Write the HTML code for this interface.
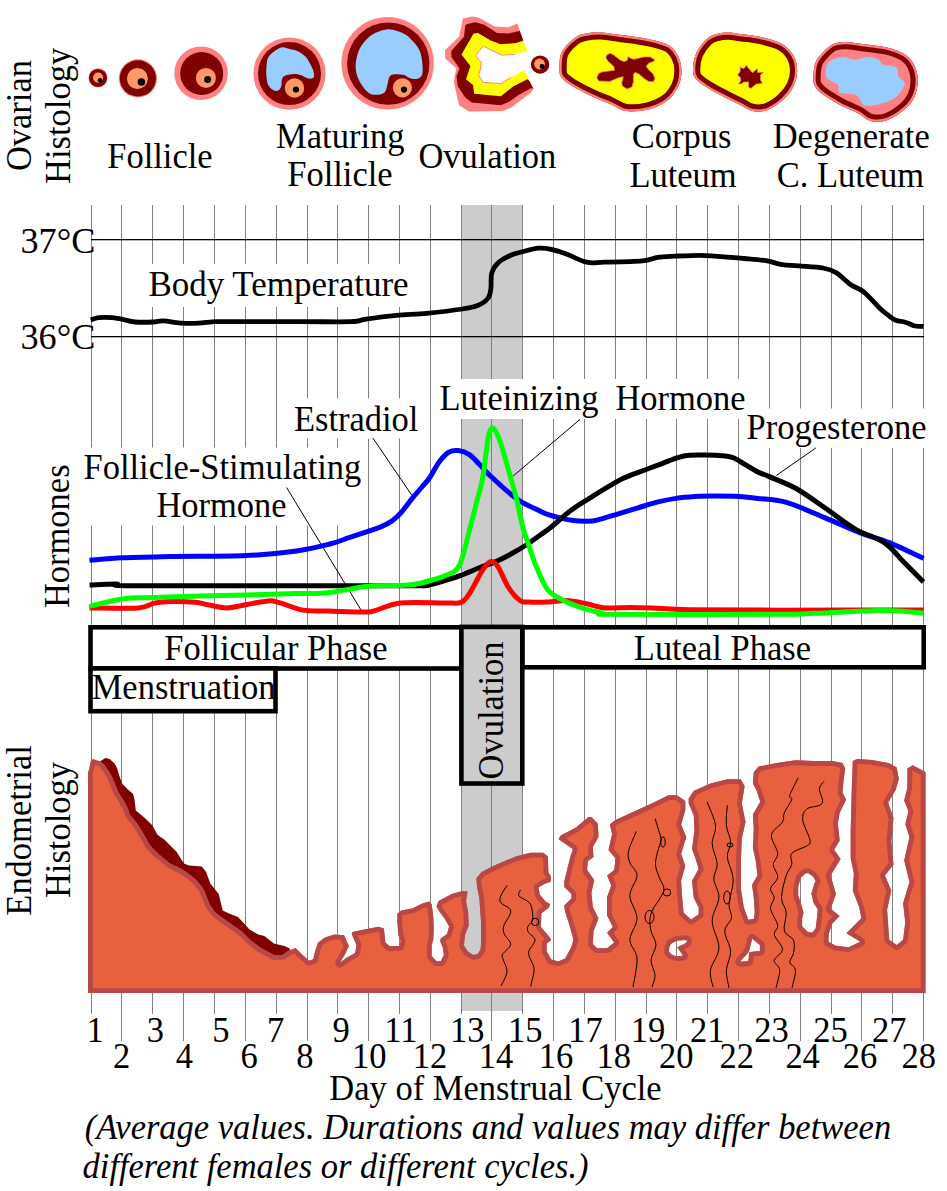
<!DOCTYPE html>
<html><head><meta charset="utf-8"><style>
html,body{margin:0;padding:0;background:#fff;overflow:hidden;}
svg{display:block;}
text{font-family:"Liberation Serif",serif;fill:#000;}
</style></head><body>
<svg width="947" height="1191" viewBox="0 0 947 1191">
<rect width="947" height="1191" fill="#fff"/>
<rect x="461" y="205" width="62" height="806" fill="#cccccc"/>
<g fill="#808080"><rect x="91" y="205" width="1" height="809"/><rect x="121" y="205" width="1" height="836"/><rect x="152" y="205" width="1" height="809"/><rect x="183" y="205" width="1" height="836"/><rect x="214" y="205" width="1" height="809"/><rect x="245" y="205" width="1" height="836"/><rect x="276" y="205" width="1" height="809"/><rect x="307" y="205" width="1" height="836"/><rect x="337" y="205" width="1" height="809"/><rect x="368" y="205" width="1" height="836"/><rect x="399" y="205" width="1" height="809"/><rect x="430" y="205" width="1" height="836"/><rect x="461" y="205" width="1" height="809"/><rect x="491" y="205" width="1" height="836"/><rect x="522" y="205" width="1" height="809"/><rect x="553" y="205" width="1" height="836"/><rect x="584" y="205" width="1" height="809"/><rect x="615" y="205" width="1" height="836"/><rect x="646" y="205" width="1" height="809"/><rect x="676" y="205" width="1" height="836"/><rect x="707" y="205" width="1" height="809"/><rect x="738" y="205" width="1" height="836"/><rect x="769" y="205" width="1" height="809"/><rect x="800" y="205" width="1" height="836"/><rect x="831" y="205" width="1" height="809"/><rect x="861" y="205" width="1" height="836"/><rect x="892" y="205" width="1" height="809"/><rect x="923" y="205" width="1" height="836"/></g>
<rect x="91" y="239" width="833" height="1.3" fill="#000"/>
<rect x="91" y="336" width="833" height="1.3" fill="#000"/>
<rect x="140" y="264" width="276" height="43" fill="#fff"/>
<rect x="289" y="398.5" width="134" height="40" fill="#fff"/>
<rect x="80" y="447.5" width="283" height="78" fill="#fff"/>
<rect x="432" y="379" width="318" height="40" fill="#fff"/>
<rect x="742" y="408.5" width="200" height="39.5" fill="#fff"/>
<text transform="translate(30.80,171.12) rotate(-90) scale(1,1.05)" font-size="34.5">Ovarian</text>
<text transform="translate(69.90,183.89) rotate(-90) scale(1,1.05)" font-size="34.5">Histology</text>
<text transform="translate(107.21,167.80) scale(1.0,1.05)" font-size="34.5">Follicle</text>
<text transform="translate(276.11,148.00) scale(1.0,1.05)" font-size="34.5">Maturing</text>
<text transform="translate(287.21,186.30) scale(1.0,1.05)" font-size="34.5">Follicle</text>
<text transform="translate(418.38,167.50) scale(1.0,1.05)" font-size="34.5">Ovulation</text>
<text transform="translate(631.68,147.80) scale(1.0,1.05)" font-size="34.5">Corpus</text>
<text transform="translate(629.41,186.80) scale(1.0,1.05)" font-size="34.5">Luteum</text>
<text transform="translate(772.71,147.80) scale(1.0,1.05)" font-size="34.5">Degenerate</text>
<text transform="translate(776.68,186.80) scale(1.0,1.05)" font-size="34.5">C. Luteum</text>
<text transform="translate(20.47,252.80) scale(1.05,1.05)" font-size="34.5">37°C</text>
<text transform="translate(20.47,348.90) scale(1.05,1.05)" font-size="34.5">36°C</text>
<text transform="translate(148.49,295.50) scale(1.014,1.05)" font-size="34.5">Body Temperature</text>
<text transform="translate(439.51,409.80) scale(1.0,1.05)" font-size="34.5">Luteinizing</text>
<text transform="translate(615.41,409.80) scale(1.0,1.05)" font-size="34.5">Hormone</text>
<text transform="translate(746.61,439.20) scale(1.0,1.05)" font-size="34.5">Progesterone</text>
<text transform="translate(293.91,430.90) scale(1.0,1.05)" font-size="34.5">Estradiol</text>
<text transform="translate(83.51,478.60) scale(1.0,1.05)" font-size="34.5">Follicle-Stimulating</text>
<text transform="translate(156.41,516.80) scale(1.0,1.05)" font-size="34.5">Hormone</text>
<text transform="translate(68.60,608.09) rotate(-90) scale(1,1.05)" font-size="34.5">Hormones</text>
<text transform="translate(329.31,1099.90) scale(1.0,1.05)" font-size="34.5">Day of Menstrual Cycle</text>
<text transform="translate(84.69,1139.00) scale(1.0,1.05)" font-size="34.5" font-style="italic">(Average values. Durations and values may differ between</text>
<text transform="translate(82.56,1177.70) scale(1.0,1.05)" font-size="34.5" font-style="italic">different females or different cycles.)</text>
<text transform="translate(31.10,915.69) rotate(-90) scale(1,1.05)" font-size="34.5">Endometrial</text>
<text transform="translate(69.70,898.09) rotate(-90) scale(1,1.05)" font-size="34.5">Histology</text>
<g stroke="#000" stroke-width="1" fill="none"><line x1="580" y1="419.4" x2="513.2" y2="476"/><line x1="815.9" y1="447.9" x2="776.3" y2="475.5"/><line x1="372.9" y1="438.1" x2="412.6" y2="496.4"/><line x1="286.6" y1="487.5" x2="363.2" y2="613.6"/></g>
<circle cx="98" cy="77.9" r="9.6" fill="#ff8080"/>
<circle cx="98" cy="77.9" r="9.0" fill="#800000"/>
<circle cx="98.1" cy="77.7" r="5.1" fill="#ff9966"/>
<circle cx="100.2" cy="80.3" r="2.4" fill="#000"/>
<circle cx="137.9" cy="78.4" r="19.1" fill="#ff8080"/>
<circle cx="137.9" cy="78.4" r="18.1" fill="#800000"/>
<circle cx="137.4" cy="78.5" r="10.5" fill="#ff9966"/>
<circle cx="141.4" cy="82" r="3.8" fill="#000"/>
<circle cx="201.1" cy="73.3" r="26.8" fill="#ff8080"/>
<circle cx="201.7" cy="73.5" r="21.5" fill="#800000"/>
<circle cx="205.9" cy="77.9" r="10" fill="#ff9966"/>
<circle cx="207.6" cy="79.5" r="3.5" fill="#000"/>
<circle cx="289.5" cy="73.6" r="36.1" fill="#ff8080"/>
<circle cx="289.5" cy="73.6" r="31.5" fill="#800000"/>
<path d="M268.2,57.4 C269.7,54.8 273.0,52.3 275.3,50.6 C277.6,48.9 279.7,47.5 282.1,47.2 C284.5,46.9 287.2,48.3 289.7,48.9 C292.2,49.5 294.8,49.8 297.3,51.0 C299.8,52.2 302.9,54.3 304.9,56.1 C306.9,57.9 307.8,59.8 309.1,62.0 C310.4,64.2 312.1,67.1 312.9,69.6 C313.7,72.1 314.6,75.7 313.8,77.2 C313.0,78.7 310.5,78.8 308.3,78.5 C306.1,78.2 303.1,75.9 300.7,75.1 C298.3,74.3 296.4,73.8 293.9,73.9 C291.4,74.0 287.5,74.7 285.5,75.5 C283.5,76.3 282.8,77.2 282.1,78.9 C281.4,80.6 281.9,83.8 281.3,85.7 C280.7,87.6 280.0,89.5 278.7,90.3 C277.4,91.1 275.3,91.1 273.6,90.3 C271.9,89.5 269.8,87.9 268.6,85.7 C267.4,83.5 266.9,80.4 266.5,77.2 C266.1,74.0 266.2,69.6 266.5,66.3 C266.8,63.0 266.7,60.0 268.2,57.4Z" fill="#99ccff"/>
<circle cx="294.5" cy="88" r="9.7" fill="#ff9966"/>
<circle cx="296" cy="89.5" r="3.1" fill="#000"/>
<circle cx="387.6" cy="63.3" r="46.2" fill="#ff8080"/>
<circle cx="388.3" cy="63.6" r="41.2" fill="#800000"/>
<path d="M356.0,61.6 C356.5,58.1 357.5,53.5 359.1,50.0 C360.7,46.5 362.9,43.3 365.5,40.5 C368.1,37.7 371.5,35.0 375.0,33.1 C378.5,31.2 382.9,29.8 386.6,29.4 C390.3,29.0 393.8,30.0 397.1,31.0 C400.4,32.0 403.8,33.3 406.6,35.2 C409.4,37.1 411.9,40.1 414.0,42.6 C416.1,45.1 418.0,47.2 419.3,50.0 C420.6,52.8 421.4,55.6 421.9,59.5 C422.4,63.4 423.1,70.0 422.5,73.2 C421.9,76.4 420.2,77.6 418.3,78.5 C416.4,79.4 413.4,79.1 410.9,78.5 C408.4,77.9 406.1,75.5 403.5,74.8 C400.9,74.1 397.3,74.0 395.0,74.3 C392.7,74.6 390.9,74.8 389.7,76.4 C388.5,78.0 388.3,81.3 387.6,83.8 C386.9,86.3 386.7,89.4 385.5,91.2 C384.3,93.0 382.5,93.9 380.2,94.4 C377.9,94.9 374.2,95.1 371.8,94.4 C369.4,93.7 367.6,92.4 365.5,90.1 C363.4,87.8 360.7,83.8 359.1,80.6 C357.5,77.4 356.5,74.3 356.0,71.1 C355.5,67.9 355.5,65.1 356.0,61.6Z" fill="#99ccff"/>
<circle cx="402.4" cy="87.8" r="9.6" fill="#ff9966"/>
<circle cx="404" cy="89.6" r="3.1" fill="#000"/>
<polygon points="517.3,23.4 508.4,27.2 494.5,26.6 479.3,17.7 472.3,16.5 462.8,18.4 460.9,28.5 459.0,36.7 445.1,50.0 445.1,58.3 456.5,68.4 454.6,76.0 453.9,82.4 459.0,105.2 469.1,111.5 503.4,110.9 511.0,107.7 521.1,100.1 530.6,93.1 546.0,96.0 546.0,20.0" fill="#ff8080"/>
<polygon points="519.5,31.0 508.4,33.6 497.0,32.9 484.3,24.7 475.5,22.2 467.2,24.1 465.3,25.3 464.0,36.7 451.4,50.7 451.4,57.0 459.6,68.4 456.5,76.0 457.7,86.2 465.3,97.6 471.7,102.6 500.8,105.2 509.7,101.4 518.6,95.0 531.5,88.0 546.0,96.0 546.0,20.0" fill="#800000"/>
<polygon points="522.5,41.0 516.0,43.1 500.8,44.3 490.7,40.5 478.0,32.9 473.6,33.6 461.5,54.5 470.4,65.9 466.0,79.2 473.0,84.9 474.2,93.8 500.8,96.3 513.5,86.2 527.4,79.2 546.0,96.0 546.0,20.0" fill="#ffff00"/>
<polygon points="527.0,51.0 514.8,54.5 501.5,55.1 483.1,46.2 475.5,55.8 481.2,62.1 480.5,69.1 478.6,74.8 483.1,82.4 500.8,83.6 511.0,77.3 524.3,70.3 533.5,89.0 530.6,93.1 548.0,100.0 548.0,14.0 517.3,14.0 517.3,23.4" fill="#fff"/>
<polyline points="514.8,54.5 501.5,55.1 483.1,46.2 475.5,55.8 481.2,62.1 480.5,69.1 478.6,74.8 483.1,82.4 500.8,83.6 511.0,77.3" fill="none" stroke="#ff8080" stroke-width="1"/>
<circle cx="540.1" cy="64.6" r="9.2" fill="#800000"/>
<circle cx="539.5" cy="64" r="5.4" fill="#ff9966"/>
<circle cx="542" cy="66.5" r="2.4" fill="#000"/>
<clipPath id="c1"><path d="M559.5,67.5 C559.6,63.3 559.3,56.7 561.9,51.7 C564.5,46.7 571.2,40.4 575.3,37.4 C579.4,34.4 582.2,34.3 586.4,33.5 C590.6,32.7 594.9,32.1 600.7,32.4 C606.5,32.6 613.4,33.9 621.3,35.0 C629.2,36.1 640.3,37.3 648.2,39.0 C656.1,40.7 663.8,42.4 668.8,45.3 C673.8,48.2 676.2,52.2 678.3,56.4 C680.4,60.6 681.5,65.7 681.5,70.7 C681.5,75.7 680.7,81.5 678.3,86.5 C675.9,91.5 672.2,97.0 667.2,100.8 C662.2,104.6 655.1,107.8 648.2,109.5 C641.3,111.2 632.3,112.0 626.0,111.1 C619.7,110.2 616.0,106.5 610.2,104.0 C604.4,101.5 597.8,99.2 591.2,96.0 C584.6,92.8 575.6,88.2 570.6,85.0 C565.6,81.8 563.0,79.9 561.1,77.0 C559.2,74.1 559.4,71.7 559.5,67.5Z"/></clipPath><path d="M559.5,67.5 C559.6,63.3 559.3,56.7 561.9,51.7 C564.5,46.7 571.2,40.4 575.3,37.4 C579.4,34.4 582.2,34.3 586.4,33.5 C590.6,32.7 594.9,32.1 600.7,32.4 C606.5,32.6 613.4,33.9 621.3,35.0 C629.2,36.1 640.3,37.3 648.2,39.0 C656.1,40.7 663.8,42.4 668.8,45.3 C673.8,48.2 676.2,52.2 678.3,56.4 C680.4,60.6 681.5,65.7 681.5,70.7 C681.5,75.7 680.7,81.5 678.3,86.5 C675.9,91.5 672.2,97.0 667.2,100.8 C662.2,104.6 655.1,107.8 648.2,109.5 C641.3,111.2 632.3,112.0 626.0,111.1 C619.7,110.2 616.0,106.5 610.2,104.0 C604.4,101.5 597.8,99.2 591.2,96.0 C584.6,92.8 575.6,88.2 570.6,85.0 C565.6,81.8 563.0,79.9 561.1,77.0 C559.2,74.1 559.4,71.7 559.5,67.5Z" fill="#ffff00"/><path d="M559.5,67.5 C559.6,63.3 559.3,56.7 561.9,51.7 C564.5,46.7 571.2,40.4 575.3,37.4 C579.4,34.4 582.2,34.3 586.4,33.5 C590.6,32.7 594.9,32.1 600.7,32.4 C606.5,32.6 613.4,33.9 621.3,35.0 C629.2,36.1 640.3,37.3 648.2,39.0 C656.1,40.7 663.8,42.4 668.8,45.3 C673.8,48.2 676.2,52.2 678.3,56.4 C680.4,60.6 681.5,65.7 681.5,70.7 C681.5,75.7 680.7,81.5 678.3,86.5 C675.9,91.5 672.2,97.0 667.2,100.8 C662.2,104.6 655.1,107.8 648.2,109.5 C641.3,111.2 632.3,112.0 626.0,111.1 C619.7,110.2 616.0,106.5 610.2,104.0 C604.4,101.5 597.8,99.2 591.2,96.0 C584.6,92.8 575.6,88.2 570.6,85.0 C565.6,81.8 563.0,79.9 561.1,77.0 C559.2,74.1 559.4,71.7 559.5,67.5Z" fill="none" stroke="#800000" stroke-width="14.4" clip-path="url(#c1)"/><path d="M559.5,67.5 C559.6,63.3 559.3,56.7 561.9,51.7 C564.5,46.7 571.2,40.4 575.3,37.4 C579.4,34.4 582.2,34.3 586.4,33.5 C590.6,32.7 594.9,32.1 600.7,32.4 C606.5,32.6 613.4,33.9 621.3,35.0 C629.2,36.1 640.3,37.3 648.2,39.0 C656.1,40.7 663.8,42.4 668.8,45.3 C673.8,48.2 676.2,52.2 678.3,56.4 C680.4,60.6 681.5,65.7 681.5,70.7 C681.5,75.7 680.7,81.5 678.3,86.5 C675.9,91.5 672.2,97.0 667.2,100.8 C662.2,104.6 655.1,107.8 648.2,109.5 C641.3,111.2 632.3,112.0 626.0,111.1 C619.7,110.2 616.0,106.5 610.2,104.0 C604.4,101.5 597.8,99.2 591.2,96.0 C584.6,92.8 575.6,88.2 570.6,85.0 C565.6,81.8 563.0,79.9 561.1,77.0 C559.2,74.1 559.4,71.7 559.5,67.5Z" fill="none" stroke="#ff8080" stroke-width="4.4" clip-path="url(#c1)"/>
<polygon points="606.6,55.3 609.8,53.3 613.0,54.5 620.1,60.0 624.0,61.6 627.2,60.4 628.0,56.5 629.6,57.7 633.5,59.3 639.1,58.1 643.8,56.9 650.2,56.9 654.9,60.0 653.3,61.6 648.6,63.2 646.2,66.4 648.6,69.5 653.3,74.3 654.9,78.3 653.3,81.8 648.6,81.4 643.8,78.3 639.1,74.3 635.1,72.3 633.5,74.3 633.5,81.4 632.0,87.0 627.2,88.9 622.5,86.2 621.7,83.0 623.3,76.7 619.3,77.5 613.8,79.8 609.8,81.4 598.7,81.0 596.7,77.5 598.7,73.5 601.9,71.9 614.5,70.3 613.8,66.4 608.2,61.6 605.8,57.7" fill="#800000" stroke="#ff8080" stroke-width="0.7" stroke-linejoin="round"/>
<clipPath id="c2"><path d="M693.0,70.3 C693.0,66.1 693.7,59.2 695.9,54.0 C698.1,48.8 702.8,42.5 706.3,39.2 C709.8,35.9 712.9,35.1 716.6,34.0 C720.3,32.9 724.5,32.6 728.4,32.6 C732.3,32.6 734.9,33.3 740.3,34.0 C745.7,34.7 754.1,35.4 761.0,37.0 C767.9,38.6 776.3,40.6 781.7,43.7 C787.1,46.8 790.9,51.1 793.5,55.5 C796.1,59.9 797.2,65.1 797.2,70.3 C797.2,75.5 795.9,81.6 793.5,86.5 C791.1,91.4 787.5,95.8 783.1,99.8 C778.7,103.8 772.1,108.3 766.9,110.2 C761.7,112.1 756.8,111.9 752.1,110.9 C747.4,109.9 743.5,106.6 738.8,104.3 C734.1,102.0 729.2,99.6 724.0,96.9 C718.8,94.2 712.4,91.0 707.7,88.0 C703.0,85.0 698.4,82.0 695.9,79.1 C693.4,76.1 693.0,74.5 693.0,70.3Z"/></clipPath><path d="M693.0,70.3 C693.0,66.1 693.7,59.2 695.9,54.0 C698.1,48.8 702.8,42.5 706.3,39.2 C709.8,35.9 712.9,35.1 716.6,34.0 C720.3,32.9 724.5,32.6 728.4,32.6 C732.3,32.6 734.9,33.3 740.3,34.0 C745.7,34.7 754.1,35.4 761.0,37.0 C767.9,38.6 776.3,40.6 781.7,43.7 C787.1,46.8 790.9,51.1 793.5,55.5 C796.1,59.9 797.2,65.1 797.2,70.3 C797.2,75.5 795.9,81.6 793.5,86.5 C791.1,91.4 787.5,95.8 783.1,99.8 C778.7,103.8 772.1,108.3 766.9,110.2 C761.7,112.1 756.8,111.9 752.1,110.9 C747.4,109.9 743.5,106.6 738.8,104.3 C734.1,102.0 729.2,99.6 724.0,96.9 C718.8,94.2 712.4,91.0 707.7,88.0 C703.0,85.0 698.4,82.0 695.9,79.1 C693.4,76.1 693.0,74.5 693.0,70.3Z" fill="#ffff00"/><path d="M693.0,70.3 C693.0,66.1 693.7,59.2 695.9,54.0 C698.1,48.8 702.8,42.5 706.3,39.2 C709.8,35.9 712.9,35.1 716.6,34.0 C720.3,32.9 724.5,32.6 728.4,32.6 C732.3,32.6 734.9,33.3 740.3,34.0 C745.7,34.7 754.1,35.4 761.0,37.0 C767.9,38.6 776.3,40.6 781.7,43.7 C787.1,46.8 790.9,51.1 793.5,55.5 C796.1,59.9 797.2,65.1 797.2,70.3 C797.2,75.5 795.9,81.6 793.5,86.5 C791.1,91.4 787.5,95.8 783.1,99.8 C778.7,103.8 772.1,108.3 766.9,110.2 C761.7,112.1 756.8,111.9 752.1,110.9 C747.4,109.9 743.5,106.6 738.8,104.3 C734.1,102.0 729.2,99.6 724.0,96.9 C718.8,94.2 712.4,91.0 707.7,88.0 C703.0,85.0 698.4,82.0 695.9,79.1 C693.4,76.1 693.0,74.5 693.0,70.3Z" fill="none" stroke="#800000" stroke-width="14.4" clip-path="url(#c2)"/><path d="M693.0,70.3 C693.0,66.1 693.7,59.2 695.9,54.0 C698.1,48.8 702.8,42.5 706.3,39.2 C709.8,35.9 712.9,35.1 716.6,34.0 C720.3,32.9 724.5,32.6 728.4,32.6 C732.3,32.6 734.9,33.3 740.3,34.0 C745.7,34.7 754.1,35.4 761.0,37.0 C767.9,38.6 776.3,40.6 781.7,43.7 C787.1,46.8 790.9,51.1 793.5,55.5 C796.1,59.9 797.2,65.1 797.2,70.3 C797.2,75.5 795.9,81.6 793.5,86.5 C791.1,91.4 787.5,95.8 783.1,99.8 C778.7,103.8 772.1,108.3 766.9,110.2 C761.7,112.1 756.8,111.9 752.1,110.9 C747.4,109.9 743.5,106.6 738.8,104.3 C734.1,102.0 729.2,99.6 724.0,96.9 C718.8,94.2 712.4,91.0 707.7,88.0 C703.0,85.0 698.4,82.0 695.9,79.1 C693.4,76.1 693.0,74.5 693.0,70.3Z" fill="none" stroke="#ff8080" stroke-width="4.4" clip-path="url(#c2)"/>
<polygon points="740.3,66.2 741.0,67.7 743.9,68.5 746.9,65.3 747.7,67.2 752.4,72.7 757.5,68.5 757.5,72.5 763.4,72.3 760.4,74.9 760.4,79.9 762.5,83.3 756.2,84.1 750.7,88.4 748.6,87.1 748.6,82.0 743.9,82.0 741.0,84.1 738.4,83.7 740.6,81.2 740.6,77.8 737.6,74.9 740.1,71.5" fill="#800000" stroke="#ff8080" stroke-width="0.6"/>
<clipPath id="c3"><path d="M813.4,77.7 C813.5,73.8 813.8,67.0 815.5,62.6 C817.2,58.2 820.7,54.7 823.7,51.6 C826.7,48.5 829.6,45.6 833.3,44.0 C837.0,42.4 840.9,42.0 845.7,42.0 C850.5,42.0 855.3,43.1 862.2,44.0 C869.1,44.9 879.8,45.8 886.9,47.5 C894.0,49.2 900.1,51.3 904.7,54.3 C909.3,57.3 912.1,60.9 914.3,65.3 C916.5,69.7 917.8,75.1 917.8,80.4 C917.8,85.7 916.5,92.1 914.3,96.9 C912.1,101.7 909.3,105.3 904.7,109.2 C900.1,113.1 892.6,118.2 886.9,120.2 C881.2,122.2 875.2,122.1 870.4,120.9 C865.6,119.8 863.0,115.9 858.0,113.3 C853.0,110.7 846.1,108.3 840.2,105.1 C834.3,101.9 826.6,97.3 822.4,94.1 C818.2,90.9 816.3,88.6 814.8,85.9 C813.3,83.2 813.3,81.6 813.4,77.7Z"/></clipPath><path d="M813.4,77.7 C813.5,73.8 813.8,67.0 815.5,62.6 C817.2,58.2 820.7,54.7 823.7,51.6 C826.7,48.5 829.6,45.6 833.3,44.0 C837.0,42.4 840.9,42.0 845.7,42.0 C850.5,42.0 855.3,43.1 862.2,44.0 C869.1,44.9 879.8,45.8 886.9,47.5 C894.0,49.2 900.1,51.3 904.7,54.3 C909.3,57.3 912.1,60.9 914.3,65.3 C916.5,69.7 917.8,75.1 917.8,80.4 C917.8,85.7 916.5,92.1 914.3,96.9 C912.1,101.7 909.3,105.3 904.7,109.2 C900.1,113.1 892.6,118.2 886.9,120.2 C881.2,122.2 875.2,122.1 870.4,120.9 C865.6,119.8 863.0,115.9 858.0,113.3 C853.0,110.7 846.1,108.3 840.2,105.1 C834.3,101.9 826.6,97.3 822.4,94.1 C818.2,90.9 816.3,88.6 814.8,85.9 C813.3,83.2 813.3,81.6 813.4,77.7Z" fill="#ff8080"/><path d="M813.4,77.7 C813.5,73.8 813.8,67.0 815.5,62.6 C817.2,58.2 820.7,54.7 823.7,51.6 C826.7,48.5 829.6,45.6 833.3,44.0 C837.0,42.4 840.9,42.0 845.7,42.0 C850.5,42.0 855.3,43.1 862.2,44.0 C869.1,44.9 879.8,45.8 886.9,47.5 C894.0,49.2 900.1,51.3 904.7,54.3 C909.3,57.3 912.1,60.9 914.3,65.3 C916.5,69.7 917.8,75.1 917.8,80.4 C917.8,85.7 916.5,92.1 914.3,96.9 C912.1,101.7 909.3,105.3 904.7,109.2 C900.1,113.1 892.6,118.2 886.9,120.2 C881.2,122.2 875.2,122.1 870.4,120.9 C865.6,119.8 863.0,115.9 858.0,113.3 C853.0,110.7 846.1,108.3 840.2,105.1 C834.3,101.9 826.6,97.3 822.4,94.1 C818.2,90.9 816.3,88.6 814.8,85.9 C813.3,83.2 813.3,81.6 813.4,77.7Z" fill="none" stroke="#800000" stroke-width="14.4" clip-path="url(#c3)"/><path d="M813.4,77.7 C813.5,73.8 813.8,67.0 815.5,62.6 C817.2,58.2 820.7,54.7 823.7,51.6 C826.7,48.5 829.6,45.6 833.3,44.0 C837.0,42.4 840.9,42.0 845.7,42.0 C850.5,42.0 855.3,43.1 862.2,44.0 C869.1,44.9 879.8,45.8 886.9,47.5 C894.0,49.2 900.1,51.3 904.7,54.3 C909.3,57.3 912.1,60.9 914.3,65.3 C916.5,69.7 917.8,75.1 917.8,80.4 C917.8,85.7 916.5,92.1 914.3,96.9 C912.1,101.7 909.3,105.3 904.7,109.2 C900.1,113.1 892.6,118.2 886.9,120.2 C881.2,122.2 875.2,122.1 870.4,120.9 C865.6,119.8 863.0,115.9 858.0,113.3 C853.0,110.7 846.1,108.3 840.2,105.1 C834.3,101.9 826.6,97.3 822.4,94.1 C818.2,90.9 816.3,88.6 814.8,85.9 C813.3,83.2 813.3,81.6 813.4,77.7Z" fill="none" stroke="#ff8080" stroke-width="4.4" clip-path="url(#c3)"/>
<path d="M826.5,77.7 C825.0,74.0 825.8,66.0 828.5,62.6 C831.2,59.2 838.5,57.6 843.0,57.1 C847.5,56.6 851.2,59.8 855.3,59.8 C859.4,59.8 863.8,57.1 867.7,57.1 C871.6,57.1 876.1,58.5 878.6,59.8 C881.1,61.0 879.8,63.3 882.8,64.6 C885.8,65.9 893.9,65.5 896.5,67.4 C899.1,69.4 897.1,73.5 898.5,76.3 C899.9,79.1 905.7,80.6 904.7,84.5 C903.7,88.4 898.8,96.0 892.4,99.6 C886.0,103.1 872.2,106.5 866.3,105.8 C860.3,105.1 861.1,97.7 856.7,95.5 C852.4,93.3 843.4,94.6 840.2,92.8 C837.0,91.0 839.8,87.0 837.5,84.5 C835.2,82.0 828.0,81.4 826.5,77.7Z" fill="#99ccff"/>
<path d="M90.7,320.0 C92.0,319.6 95.0,318.1 98.6,317.7 C102.2,317.3 108.2,317.4 112.2,317.7 C116.2,318.0 118.7,318.6 122.5,319.3 C126.3,320.0 129.9,321.6 135.0,322.0 C140.1,322.4 148.4,322.2 153.1,322.0 C157.8,321.8 158.4,320.7 163.3,320.9 C168.2,321.1 176.7,322.8 182.6,323.2 C188.5,323.6 193.6,323.4 198.5,323.2 C203.4,323.0 207.9,322.1 212.1,321.8 C216.3,321.5 208.8,321.6 223.5,321.6 C238.2,321.6 278.8,321.6 300.0,321.6 C321.2,321.6 339.8,322.1 350.8,321.7 C361.8,321.3 358.4,320.2 366.0,319.1 C373.6,318.0 386.3,316.3 396.4,315.3 C406.5,314.3 415.8,314.4 426.8,313.3 C437.8,312.2 453.8,310.3 462.3,309.0 C470.8,307.7 473.4,307.3 477.7,305.5 C482.0,303.7 485.7,301.3 487.9,298.4 C490.1,295.5 490.3,292.5 490.9,288.3 C491.5,284.1 490.5,277.3 491.7,273.1 C492.9,268.9 494.8,265.9 498.0,262.9 C501.2,259.9 506.5,257.2 510.7,255.3 C514.9,253.4 518.8,252.7 523.4,251.5 C528.0,250.3 534.0,248.6 538.6,248.2 C543.2,247.8 546.6,248.3 551.2,249.3 C555.8,250.3 560.5,251.9 566.4,254.1 C572.3,256.2 580.4,260.8 586.7,262.2 C593.0,263.6 595.1,262.4 604.4,262.2 C613.7,262.0 633.6,261.7 642.5,260.9 C651.4,260.1 652.2,258.2 657.7,257.4 C663.2,256.6 668.4,256.5 675.4,256.1 C682.4,255.8 693.0,255.3 700.0,255.3 C707.0,255.3 709.7,255.8 717.1,256.3 C724.5,256.8 736.1,257.8 744.3,258.5 C752.4,259.2 759.7,259.7 766.0,260.7 C772.3,261.7 776.9,263.8 782.3,264.7 C787.7,265.6 791.7,265.2 798.5,265.8 C805.3,266.4 816.7,266.8 823.0,268.0 C829.3,269.2 832.0,270.2 836.5,272.9 C841.0,275.6 845.6,281.1 850.1,284.3 C854.6,287.5 858.7,287.9 863.7,291.9 C868.7,295.9 875.9,304.6 880.0,308.5 C884.1,312.4 885.6,313.2 888.2,315.2 C890.8,317.2 892.9,319.1 895.8,320.3 C898.6,321.5 902.1,321.2 905.3,322.2 C908.5,323.1 911.8,325.3 914.9,326.0 C918.0,326.7 922.1,326.2 923.6,326.3" fill="none" stroke="#000" stroke-width="4.8" stroke-linejoin="round"/>
<path d="M89.5,560.3 C95.0,559.9 109.1,558.4 122.5,557.8 C135.9,557.2 149.4,557.0 170.0,556.6 C190.6,556.2 224.9,556.6 246.0,555.6 C267.1,554.6 282.7,552.8 296.7,550.9 C310.7,549.0 321.3,546.2 330.0,544.0 C338.7,541.8 342.7,539.8 349.0,537.7 C355.3,535.6 362.7,533.2 368.0,531.4 C373.3,529.6 376.7,528.6 380.7,526.9 C384.7,525.2 388.4,523.5 391.8,521.1 C395.2,518.7 397.9,516.2 401.3,512.4 C404.7,508.6 409.0,502.3 412.4,498.1 C415.8,493.9 419.0,490.4 421.9,487.0 C424.8,483.6 426.9,481.7 429.8,477.5 C432.7,473.3 436.1,465.9 439.3,461.7 C442.5,457.5 445.6,454.0 448.8,452.2 C452.0,450.4 454.9,450.2 458.3,450.6 C461.7,451.0 466.0,452.4 469.4,454.6 C472.8,456.8 475.8,460.6 478.9,463.7 C481.9,466.8 484.2,469.9 487.7,473.3 C491.1,476.8 495.7,480.8 499.6,484.4 C503.6,488.0 507.7,491.8 511.4,494.7 C515.1,497.6 518.0,499.9 521.7,502.1 C525.4,504.3 529.2,505.9 533.6,508.0 C538.0,510.1 543.7,513.0 548.4,514.7 C553.1,516.4 557.5,517.4 561.7,518.4 C565.9,519.4 569.6,520.1 573.5,520.6 C577.4,521.1 581.4,521.4 585.3,521.3 C589.2,521.2 591.5,521.4 597.1,520.1 C602.7,518.8 612.2,515.6 619.0,513.6 C625.8,511.6 631.7,509.8 638.0,507.9 C644.3,506.0 650.7,503.8 657.0,502.2 C663.3,500.6 669.7,499.3 676.0,498.4 C682.3,497.4 688.7,496.9 695.0,496.5 C701.3,496.1 706.7,496.1 714.0,496.1 C721.3,496.1 731.5,496.1 738.8,496.5 C746.1,496.9 750.0,497.4 757.8,498.4 C765.6,499.3 774.5,498.9 785.7,502.2 C796.9,505.4 812.9,512.8 825.2,517.9 C837.5,523.0 849.0,528.6 859.7,532.7 C870.4,536.8 878.7,538.3 889.3,542.6 C899.9,546.9 917.8,555.8 923.5,558.4" fill="none" stroke="#0000ff" stroke-width="5" stroke-linejoin="round"/>
<path d="M89.5,585.0 C94.0,584.9 108.0,584.0 116.2,584.1 C124.4,584.2 95.3,585.4 138.4,585.7 C181.5,586.0 328.1,585.7 375.0,585.7 C421.9,585.7 410.7,585.9 420.0,585.7 C429.3,585.5 424.5,586.0 430.8,584.5 C437.1,583.0 451.3,578.6 457.8,576.5 C464.3,574.4 465.5,573.4 470.0,571.6 C474.5,569.8 480.4,567.4 484.8,565.7 C489.2,564.0 492.2,563.2 496.6,561.2 C501.0,559.2 506.5,556.5 511.4,553.8 C516.3,551.1 521.3,548.2 526.2,545.0 C531.1,541.8 536.6,537.8 541.0,534.6 C545.4,531.4 548.9,528.9 552.8,525.7 C556.7,522.5 560.7,518.6 564.6,515.4 C568.5,512.2 572.5,509.2 576.4,506.5 C580.3,503.8 584.3,501.6 588.3,499.1 C592.2,496.6 594.4,495.1 600.1,491.7 C605.9,488.3 614.9,482.3 622.8,478.5 C630.7,474.7 640.9,471.5 647.5,469.0 C654.1,466.5 657.6,465.2 662.7,463.3 C667.8,461.4 673.5,458.9 677.9,457.6 C682.3,456.3 684.9,455.7 689.3,455.3 C693.7,454.9 699.1,455.0 704.5,455.1 C709.9,455.2 716.9,455.3 721.6,455.7 C726.4,456.1 729.2,456.2 733.0,457.6 C736.8,459.0 740.7,462.0 744.5,464.2 C748.3,466.4 751.8,468.8 755.9,470.9 C760.0,473.0 762.6,473.7 769.2,476.6 C775.8,479.5 786.3,483.1 795.6,488.3 C804.9,493.5 815.3,501.2 825.2,508.0 C835.1,514.8 844.9,523.0 854.8,528.8 C864.6,534.6 876.1,537.0 884.3,542.6 C892.5,548.2 897.5,555.7 904.0,562.3 C910.5,568.9 920.2,578.7 923.5,582.0" fill="none" stroke="#000" stroke-width="5" stroke-linejoin="round"/>
<path d="M89.5,607.9 C97.7,607.9 127.6,608.7 138.4,607.9 C149.2,607.1 148.9,604.2 154.2,603.1 C159.5,602.0 163.1,601.6 170.0,601.5 C176.9,601.4 189.1,601.7 195.4,602.2 C201.7,602.7 202.7,603.8 208.0,604.7 C213.3,605.7 220.7,607.9 227.0,607.9 C233.3,607.9 239.1,605.9 246.0,604.7 C252.9,603.5 262.4,601.2 268.2,600.9 C274.0,600.6 275.1,601.6 280.9,603.1 C286.7,604.6 295.1,608.8 303.0,610.1 C310.9,611.4 318.1,610.7 328.4,611.0 C338.7,611.3 357.2,612.2 365.0,612.1 C372.8,612.0 369.1,612.1 375.0,610.6 C380.9,609.1 388.6,604.3 400.4,603.0 C412.2,601.7 435.8,603.1 446.0,603.0 C456.2,602.9 457.5,603.9 461.6,602.1 C465.7,600.3 466.8,597.5 470.4,592.0 C474.0,586.5 479.5,574.4 483.0,569.3 C486.5,564.2 488.7,561.9 491.2,561.5 C493.7,561.1 495.3,562.5 498.1,566.8 C500.9,571.0 504.6,581.4 508.2,587.0 C511.8,592.6 516.7,598.1 520.0,600.6 C523.3,603.1 523.6,601.8 528.2,602.0 C532.8,602.2 541.5,602.2 547.5,602.0 C553.5,601.8 559.3,600.7 563.9,600.6 C568.5,600.5 570.8,600.8 574.9,601.4 C579.0,602.0 583.6,603.1 588.6,604.2 C593.6,605.3 598.2,607.5 605.1,608.0 C612.0,608.5 622.0,607.5 629.8,607.5 C637.6,607.5 641.7,607.6 651.8,608.0 C661.9,608.4 668.8,609.3 690.2,609.7 C711.6,610.1 741.1,610.2 780.0,610.2 C818.9,610.2 899.6,610.0 923.5,609.9" fill="none" stroke="#ff0000" stroke-width="5" stroke-linejoin="round"/>
<path d="M89.5,606.3 C92.4,605.6 100.7,603.5 106.7,602.2 C112.7,600.9 117.8,599.2 125.7,598.4 C133.6,597.6 136.2,597.9 154.2,597.4 C172.1,596.9 209.7,595.8 233.4,595.2 C257.1,594.6 280.9,594.0 296.7,593.6 C312.5,593.2 317.8,593.8 328.4,592.7 C338.9,591.7 352.2,588.5 360.0,587.3 C367.8,586.1 367.4,586.0 375.0,585.7 C382.6,585.4 398.0,585.7 405.5,585.3 C413.0,584.9 413.4,584.8 420.0,583.2 C426.6,581.6 438.6,578.6 445.2,575.6 C451.8,572.6 455.3,573.2 459.5,565.0 C463.7,556.8 467.5,537.2 470.4,526.5 C473.3,515.8 475.0,508.9 477.0,501.0 C479.0,493.1 480.9,487.5 482.5,479.0 C484.1,470.5 485.4,457.5 486.5,450.0 C487.6,442.5 487.9,437.6 489.0,434.0 C490.1,430.4 491.3,427.2 493.1,428.2 C494.9,429.2 497.1,433.1 499.6,440.0 C502.2,446.9 505.7,460.2 508.4,469.6 C511.1,479.0 513.3,486.3 515.8,496.2 C518.3,506.1 521.0,520.3 523.2,528.7 C525.4,537.1 526.9,540.0 529.1,546.4 C531.3,552.8 533.4,559.9 536.5,567.1 C539.6,574.3 543.4,584.2 547.5,589.6 C551.6,595.0 555.7,596.2 561.2,599.2 C566.7,602.2 573.5,605.2 580.4,607.5 C587.3,609.8 596.9,611.9 602.4,613.0 C607.9,614.1 583.8,614.1 613.4,614.3 C643.0,614.5 746.3,614.5 780.0,614.3 C813.7,614.1 799.2,613.8 815.6,613.2 C832.0,612.6 863.3,610.9 878.3,610.6 C893.3,610.3 897.9,611.0 905.4,611.4 C912.9,611.8 920.5,612.9 923.5,613.2" fill="none" stroke="#00ff00" stroke-width="5" stroke-linejoin="round"/>
<rect x="90.50" y="627.30" width="370.80" height="41.20" fill="#fff" stroke="#000" stroke-width="4.6"/>
<rect x="90.50" y="668.40" width="185.00" height="42.80" fill="#fff" stroke="#000" stroke-width="4.6"/>
<rect x="522.20" y="627.30" width="401.50" height="40.00" fill="#fff" stroke="#000" stroke-width="4.6"/>
<rect x="461.40" y="626.90" width="60.90" height="156.60" fill="#cccccc" stroke="#000" stroke-width="4.6"/>
<text transform="translate(164.31,659.80) scale(1.0,1.05)" font-size="34.5">Follicular Phase</text>
<text transform="translate(633.81,659.80) scale(1.0,1.05)" font-size="34.5">Luteal Phase</text>
<text transform="translate(91.71,698.60) scale(1.0,1.05)" font-size="34.5">Menstruation</text>
<text transform="translate(502.60,779.42) rotate(-90) scale(1,1.05)" font-size="34.5">Ovulation</text>
<polygon points="100.7,761.0 105.3,758.0 109.6,758.9 114.6,763.5 117.2,768.6 119.7,777.0 122.2,783.8 127.3,788.9 133.2,793.9 134.5,799.8 135.8,810.6 143.7,816.9 152.2,825.3 157.5,834.8 164.8,840.1 176.5,851.7 183.9,863.4 189.1,865.5 201.8,866.5 206.0,871.8 210.3,883.4 218.7,894.0 222.7,910.6 229.6,913.8 238.0,917.0 249.6,929.6 258.1,934.4 264.4,936.0 273.9,943.4 284.5,946.0 289.8,948.6 289.8,951.5 280.0,962.0 200.0,920.0 120.0,830.0 100.0,775.0" fill="#800000"/>
<clipPath id="ec"><path d="M88.0,993.0 L88.0,772.4 L89.3,769.0 L91.0,760.1 L93.5,759.3 L96.9,760.6 L100.7,761.4 L104.5,765.2 L108.7,771.1 L111.3,775.3 L115.0,784.0 L118.4,792.2 L124.0,801.0 L128.1,809.1 L130.0,814.8 L136.3,822.2 L141.6,830.6 L150.1,845.4 L158.5,853.9 L170.1,863.4 L180.7,868.6 L189.1,873.9 L195.5,879.2 L201.8,886.6 L204.2,890.6 L209.5,904.3 L214.8,911.7 L221.1,917.0 L234.8,926.5 L242.2,931.7 L250.7,940.2 L260.2,947.6 L273.9,955.0 L282.4,955.0 L287.6,951.3 L295.6,948.1 L302.9,955.2 L309.1,960.7 L313.2,959.3 L315.3,950.4 L318.0,942.8 L324.9,937.4 L334.5,934.6 L344.1,935.3 L348.9,946.3 L344.8,954.5 L340.0,962.8 L346.2,957.9 L355.1,953.1 L356.5,944.9 L351.7,933.9 L352.4,931.9 L363.3,929.8 L378.4,926.8 L383.9,928.4 L385.3,942.2 L389.4,946.3 L399.5,946.0 L400.6,941.2 L398.4,934.9 L397.4,922.2 L397.4,913.8 L401.1,910.6 L412.2,908.5 L421.7,903.8 L429.1,901.6 L431.7,904.3 L433.3,917.0 L433.8,928.6 L433.3,939.1 L431.7,945.5 L431.7,956.0 L436.5,961.3 L440.7,961.3 L443.9,955.0 L442.8,947.6 L440.2,941.2 L440.7,938.6 L447.0,933.9 L449.1,926.5 L444.9,919.1 L439.6,911.7 L436.5,906.4 L438.6,901.1 L452.3,893.7 L462.9,891.1 L467.6,891.6 L466.0,901.1 L468.1,911.7 L468.7,925.4 L465.0,934.9 L463.9,945.5 L468.1,951.8 L473.4,955.0 L477.6,953.9 L480.5,949.8 L481.0,944.5 L481.0,921.3 L479.3,898.1 L477.0,886.5 L476.4,878.3 L481.6,871.9 L493.2,866.1 L504.8,860.9 L516.5,856.3 L530.4,852.8 L543.2,852.8 L547.8,856.3 L548.4,872.5 L550.7,876.0 L550.7,881.8 L544.3,884.1 L538.5,887.6 L539.7,894.6 L545.5,901.6 L550.1,903.9 L549.0,907.4 L541.4,913.2 L540.9,927.1 L549.0,936.4 L551.3,939.9 L546.7,943.4 L546.7,951.5 L551.3,959.6 L558.3,961.4 L565.2,958.5 L571.4,946.9 L573.5,939.8 L570.0,927.0 L565.0,911.3 L564.3,905.5 L571.4,898.4 L571.4,894.1 L564.3,887.0 L564.3,881.3 L567.8,867.0 L570.7,855.6 L572.8,849.9 L572.1,848.5 L558.6,839.2 L560.7,835.6 L575.7,827.8 L588.5,817.1 L591.4,817.1 L597.8,823.5 L598.5,837.1 L592.8,847.1 L593.5,857.0 L587.8,861.3 L587.1,869.9 L594.2,879.9 L591.4,892.7 L592.8,907.0 L598.5,918.4 L593.5,931.2 L592.8,944.1 L597.1,948.3 L607.1,948.3 L614.2,942.6 L607.1,932.7 L612.8,926.9 L607.1,915.5 L607.1,897.0 L611.3,885.6 L607.1,875.6 L614.2,869.9 L615.6,858.5 L608.5,849.9 L612.1,834.2 L609.9,824.2 L615.6,820.0 L631.3,812.8 L650.0,804.3 L668.5,795.2 L676.9,795.2 L685.3,801.0 L685.3,810.3 L681.1,824.5 L686.2,837.1 L681.1,853.9 L685.3,865.7 L681.1,880.8 L682.0,895.9 L683.6,912.7 L691.2,919.4 L698.7,914.3 L698.7,907.6 L693.7,897.6 L692.0,880.8 L698.7,869.0 L694.5,855.6 L692.0,848.9 L694.5,830.4 L693.7,815.3 L688.7,803.6 L688.7,798.5 L693.7,791.0 L710.5,783.4 L727.3,779.2 L740.7,779.2 L744.6,786.0 L741.8,803.5 L745.5,822.0 L741.8,838.6 L740.9,860.8 L740.9,888.5 L743.7,906.9 L748.3,919.8 L753.8,918.9 L754.8,912.5 L753.8,897.7 L752.0,884.8 L757.5,875.5 L755.7,860.8 L752.9,847.8 L753.8,829.4 L752.9,814.6 L760.3,801.7 L756.6,790.6 L752.9,783.2 L753.8,772.2 L758.5,766.6 L776.9,762.9 L795.4,760.2 L813.8,761.1 L832.3,761.1 L842.5,762.9 L845.2,768.5 L843.4,781.4 L842.5,792.5 L846.1,799.8 L839.7,812.8 L837.8,823.8 L839.7,840.5 L834.1,849.7 L840.6,858.9 L830.5,875.5 L836.0,894.0 L830.5,908.8 L839.7,916.1 L832.3,923.5 L828.6,934.6 L828.6,942.0 L836.0,945.7 L848.6,947.2 L860.3,941.8 L846.4,933.3 L861.4,918.3 L859.3,907.6 L852.8,890.5 L853.9,873.4 L850.7,858.4 L850.7,830.6 L851.8,787.8 L852.8,761.0 L857.1,758.9 L872.1,760.0 L889.2,763.2 L896.7,767.5 L898.8,779.2 L895.6,789.9 L888.1,802.8 L893.5,817.7 L891.3,841.3 L893.5,864.8 L884.9,875.5 L891.3,890.5 L887.1,909.7 L889.2,939.7 L896.7,945.0 L903.1,939.7 L905.3,922.6 L903.1,903.3 L909.5,881.9 L904.2,860.5 L909.5,837.0 L905.3,824.2 L908.5,811.3 L904.2,800.6 L907.4,787.8 L907.4,768.5 L912.7,765.3 L925.5,772.0 L925.5,993.0ZM805.7,873.2 L808.5,873.2 L813.5,877.1 L815.7,881.0 L814.2,884.3 L811.4,893.5 L813.5,902.8 L817.8,909.2 L817.1,917.1 L815.7,928.5 L812.1,932.8 L807.8,932.0 L802.1,926.3 L802.1,918.5 L803.5,912.8 L800.7,902.8 L798.2,895.7 L798.2,887.1 L800.7,877.8ZM669.3,947.2 L670.8,944.0 L675.1,941.6 L677.2,940.8 L684.6,940.0 L686.9,940.6 L686.7,942.4 L683.0,944.5 L677.2,947.2 L683.0,955.6 L679.3,956.2 L675.1,955.9 L670.8,954.0 L669.0,951.4ZM752.1,938.8 L759.9,945.0 L759.9,950.9 L753.8,951.4 L749.4,952.3 L748.3,961.1 L745.2,961.6 L740.0,961.6 L748.4,952.4 L749.5,949.2 L751.2,943.1Z" clip-rule="evenodd"/></clipPath>
<path d="M88.0,993.0 L88.0,772.4 L89.3,769.0 L91.0,760.1 L93.5,759.3 L96.9,760.6 L100.7,761.4 L104.5,765.2 L108.7,771.1 L111.3,775.3 L115.0,784.0 L118.4,792.2 L124.0,801.0 L128.1,809.1 L130.0,814.8 L136.3,822.2 L141.6,830.6 L150.1,845.4 L158.5,853.9 L170.1,863.4 L180.7,868.6 L189.1,873.9 L195.5,879.2 L201.8,886.6 L204.2,890.6 L209.5,904.3 L214.8,911.7 L221.1,917.0 L234.8,926.5 L242.2,931.7 L250.7,940.2 L260.2,947.6 L273.9,955.0 L282.4,955.0 L287.6,951.3 L295.6,948.1 L302.9,955.2 L309.1,960.7 L313.2,959.3 L315.3,950.4 L318.0,942.8 L324.9,937.4 L334.5,934.6 L344.1,935.3 L348.9,946.3 L344.8,954.5 L340.0,962.8 L346.2,957.9 L355.1,953.1 L356.5,944.9 L351.7,933.9 L352.4,931.9 L363.3,929.8 L378.4,926.8 L383.9,928.4 L385.3,942.2 L389.4,946.3 L399.5,946.0 L400.6,941.2 L398.4,934.9 L397.4,922.2 L397.4,913.8 L401.1,910.6 L412.2,908.5 L421.7,903.8 L429.1,901.6 L431.7,904.3 L433.3,917.0 L433.8,928.6 L433.3,939.1 L431.7,945.5 L431.7,956.0 L436.5,961.3 L440.7,961.3 L443.9,955.0 L442.8,947.6 L440.2,941.2 L440.7,938.6 L447.0,933.9 L449.1,926.5 L444.9,919.1 L439.6,911.7 L436.5,906.4 L438.6,901.1 L452.3,893.7 L462.9,891.1 L467.6,891.6 L466.0,901.1 L468.1,911.7 L468.7,925.4 L465.0,934.9 L463.9,945.5 L468.1,951.8 L473.4,955.0 L477.6,953.9 L480.5,949.8 L481.0,944.5 L481.0,921.3 L479.3,898.1 L477.0,886.5 L476.4,878.3 L481.6,871.9 L493.2,866.1 L504.8,860.9 L516.5,856.3 L530.4,852.8 L543.2,852.8 L547.8,856.3 L548.4,872.5 L550.7,876.0 L550.7,881.8 L544.3,884.1 L538.5,887.6 L539.7,894.6 L545.5,901.6 L550.1,903.9 L549.0,907.4 L541.4,913.2 L540.9,927.1 L549.0,936.4 L551.3,939.9 L546.7,943.4 L546.7,951.5 L551.3,959.6 L558.3,961.4 L565.2,958.5 L571.4,946.9 L573.5,939.8 L570.0,927.0 L565.0,911.3 L564.3,905.5 L571.4,898.4 L571.4,894.1 L564.3,887.0 L564.3,881.3 L567.8,867.0 L570.7,855.6 L572.8,849.9 L572.1,848.5 L558.6,839.2 L560.7,835.6 L575.7,827.8 L588.5,817.1 L591.4,817.1 L597.8,823.5 L598.5,837.1 L592.8,847.1 L593.5,857.0 L587.8,861.3 L587.1,869.9 L594.2,879.9 L591.4,892.7 L592.8,907.0 L598.5,918.4 L593.5,931.2 L592.8,944.1 L597.1,948.3 L607.1,948.3 L614.2,942.6 L607.1,932.7 L612.8,926.9 L607.1,915.5 L607.1,897.0 L611.3,885.6 L607.1,875.6 L614.2,869.9 L615.6,858.5 L608.5,849.9 L612.1,834.2 L609.9,824.2 L615.6,820.0 L631.3,812.8 L650.0,804.3 L668.5,795.2 L676.9,795.2 L685.3,801.0 L685.3,810.3 L681.1,824.5 L686.2,837.1 L681.1,853.9 L685.3,865.7 L681.1,880.8 L682.0,895.9 L683.6,912.7 L691.2,919.4 L698.7,914.3 L698.7,907.6 L693.7,897.6 L692.0,880.8 L698.7,869.0 L694.5,855.6 L692.0,848.9 L694.5,830.4 L693.7,815.3 L688.7,803.6 L688.7,798.5 L693.7,791.0 L710.5,783.4 L727.3,779.2 L740.7,779.2 L744.6,786.0 L741.8,803.5 L745.5,822.0 L741.8,838.6 L740.9,860.8 L740.9,888.5 L743.7,906.9 L748.3,919.8 L753.8,918.9 L754.8,912.5 L753.8,897.7 L752.0,884.8 L757.5,875.5 L755.7,860.8 L752.9,847.8 L753.8,829.4 L752.9,814.6 L760.3,801.7 L756.6,790.6 L752.9,783.2 L753.8,772.2 L758.5,766.6 L776.9,762.9 L795.4,760.2 L813.8,761.1 L832.3,761.1 L842.5,762.9 L845.2,768.5 L843.4,781.4 L842.5,792.5 L846.1,799.8 L839.7,812.8 L837.8,823.8 L839.7,840.5 L834.1,849.7 L840.6,858.9 L830.5,875.5 L836.0,894.0 L830.5,908.8 L839.7,916.1 L832.3,923.5 L828.6,934.6 L828.6,942.0 L836.0,945.7 L848.6,947.2 L860.3,941.8 L846.4,933.3 L861.4,918.3 L859.3,907.6 L852.8,890.5 L853.9,873.4 L850.7,858.4 L850.7,830.6 L851.8,787.8 L852.8,761.0 L857.1,758.9 L872.1,760.0 L889.2,763.2 L896.7,767.5 L898.8,779.2 L895.6,789.9 L888.1,802.8 L893.5,817.7 L891.3,841.3 L893.5,864.8 L884.9,875.5 L891.3,890.5 L887.1,909.7 L889.2,939.7 L896.7,945.0 L903.1,939.7 L905.3,922.6 L903.1,903.3 L909.5,881.9 L904.2,860.5 L909.5,837.0 L905.3,824.2 L908.5,811.3 L904.2,800.6 L907.4,787.8 L907.4,768.5 L912.7,765.3 L925.5,772.0 L925.5,993.0ZM805.7,873.2 L808.5,873.2 L813.5,877.1 L815.7,881.0 L814.2,884.3 L811.4,893.5 L813.5,902.8 L817.8,909.2 L817.1,917.1 L815.7,928.5 L812.1,932.8 L807.8,932.0 L802.1,926.3 L802.1,918.5 L803.5,912.8 L800.7,902.8 L798.2,895.7 L798.2,887.1 L800.7,877.8ZM669.3,947.2 L670.8,944.0 L675.1,941.6 L677.2,940.8 L684.6,940.0 L686.9,940.6 L686.7,942.4 L683.0,944.5 L677.2,947.2 L683.0,955.6 L679.3,956.2 L675.1,955.9 L670.8,954.0 L669.0,951.4ZM752.1,938.8 L759.9,945.0 L759.9,950.9 L753.8,951.4 L749.4,952.3 L748.3,961.1 L745.2,961.6 L740.0,961.6 L748.4,952.4 L749.5,949.2 L751.2,943.1Z" fill="#e8603e" fill-rule="evenodd"/>
<path d="M88.0,993.0 L88.0,772.4 L89.3,769.0 L91.0,760.1 L93.5,759.3 L96.9,760.6 L100.7,761.4 L104.5,765.2 L108.7,771.1 L111.3,775.3 L115.0,784.0 L118.4,792.2 L124.0,801.0 L128.1,809.1 L130.0,814.8 L136.3,822.2 L141.6,830.6 L150.1,845.4 L158.5,853.9 L170.1,863.4 L180.7,868.6 L189.1,873.9 L195.5,879.2 L201.8,886.6 L204.2,890.6 L209.5,904.3 L214.8,911.7 L221.1,917.0 L234.8,926.5 L242.2,931.7 L250.7,940.2 L260.2,947.6 L273.9,955.0 L282.4,955.0 L287.6,951.3 L295.6,948.1 L302.9,955.2 L309.1,960.7 L313.2,959.3 L315.3,950.4 L318.0,942.8 L324.9,937.4 L334.5,934.6 L344.1,935.3 L348.9,946.3 L344.8,954.5 L340.0,962.8 L346.2,957.9 L355.1,953.1 L356.5,944.9 L351.7,933.9 L352.4,931.9 L363.3,929.8 L378.4,926.8 L383.9,928.4 L385.3,942.2 L389.4,946.3 L399.5,946.0 L400.6,941.2 L398.4,934.9 L397.4,922.2 L397.4,913.8 L401.1,910.6 L412.2,908.5 L421.7,903.8 L429.1,901.6 L431.7,904.3 L433.3,917.0 L433.8,928.6 L433.3,939.1 L431.7,945.5 L431.7,956.0 L436.5,961.3 L440.7,961.3 L443.9,955.0 L442.8,947.6 L440.2,941.2 L440.7,938.6 L447.0,933.9 L449.1,926.5 L444.9,919.1 L439.6,911.7 L436.5,906.4 L438.6,901.1 L452.3,893.7 L462.9,891.1 L467.6,891.6 L466.0,901.1 L468.1,911.7 L468.7,925.4 L465.0,934.9 L463.9,945.5 L468.1,951.8 L473.4,955.0 L477.6,953.9 L480.5,949.8 L481.0,944.5 L481.0,921.3 L479.3,898.1 L477.0,886.5 L476.4,878.3 L481.6,871.9 L493.2,866.1 L504.8,860.9 L516.5,856.3 L530.4,852.8 L543.2,852.8 L547.8,856.3 L548.4,872.5 L550.7,876.0 L550.7,881.8 L544.3,884.1 L538.5,887.6 L539.7,894.6 L545.5,901.6 L550.1,903.9 L549.0,907.4 L541.4,913.2 L540.9,927.1 L549.0,936.4 L551.3,939.9 L546.7,943.4 L546.7,951.5 L551.3,959.6 L558.3,961.4 L565.2,958.5 L571.4,946.9 L573.5,939.8 L570.0,927.0 L565.0,911.3 L564.3,905.5 L571.4,898.4 L571.4,894.1 L564.3,887.0 L564.3,881.3 L567.8,867.0 L570.7,855.6 L572.8,849.9 L572.1,848.5 L558.6,839.2 L560.7,835.6 L575.7,827.8 L588.5,817.1 L591.4,817.1 L597.8,823.5 L598.5,837.1 L592.8,847.1 L593.5,857.0 L587.8,861.3 L587.1,869.9 L594.2,879.9 L591.4,892.7 L592.8,907.0 L598.5,918.4 L593.5,931.2 L592.8,944.1 L597.1,948.3 L607.1,948.3 L614.2,942.6 L607.1,932.7 L612.8,926.9 L607.1,915.5 L607.1,897.0 L611.3,885.6 L607.1,875.6 L614.2,869.9 L615.6,858.5 L608.5,849.9 L612.1,834.2 L609.9,824.2 L615.6,820.0 L631.3,812.8 L650.0,804.3 L668.5,795.2 L676.9,795.2 L685.3,801.0 L685.3,810.3 L681.1,824.5 L686.2,837.1 L681.1,853.9 L685.3,865.7 L681.1,880.8 L682.0,895.9 L683.6,912.7 L691.2,919.4 L698.7,914.3 L698.7,907.6 L693.7,897.6 L692.0,880.8 L698.7,869.0 L694.5,855.6 L692.0,848.9 L694.5,830.4 L693.7,815.3 L688.7,803.6 L688.7,798.5 L693.7,791.0 L710.5,783.4 L727.3,779.2 L740.7,779.2 L744.6,786.0 L741.8,803.5 L745.5,822.0 L741.8,838.6 L740.9,860.8 L740.9,888.5 L743.7,906.9 L748.3,919.8 L753.8,918.9 L754.8,912.5 L753.8,897.7 L752.0,884.8 L757.5,875.5 L755.7,860.8 L752.9,847.8 L753.8,829.4 L752.9,814.6 L760.3,801.7 L756.6,790.6 L752.9,783.2 L753.8,772.2 L758.5,766.6 L776.9,762.9 L795.4,760.2 L813.8,761.1 L832.3,761.1 L842.5,762.9 L845.2,768.5 L843.4,781.4 L842.5,792.5 L846.1,799.8 L839.7,812.8 L837.8,823.8 L839.7,840.5 L834.1,849.7 L840.6,858.9 L830.5,875.5 L836.0,894.0 L830.5,908.8 L839.7,916.1 L832.3,923.5 L828.6,934.6 L828.6,942.0 L836.0,945.7 L848.6,947.2 L860.3,941.8 L846.4,933.3 L861.4,918.3 L859.3,907.6 L852.8,890.5 L853.9,873.4 L850.7,858.4 L850.7,830.6 L851.8,787.8 L852.8,761.0 L857.1,758.9 L872.1,760.0 L889.2,763.2 L896.7,767.5 L898.8,779.2 L895.6,789.9 L888.1,802.8 L893.5,817.7 L891.3,841.3 L893.5,864.8 L884.9,875.5 L891.3,890.5 L887.1,909.7 L889.2,939.7 L896.7,945.0 L903.1,939.7 L905.3,922.6 L903.1,903.3 L909.5,881.9 L904.2,860.5 L909.5,837.0 L905.3,824.2 L908.5,811.3 L904.2,800.6 L907.4,787.8 L907.4,768.5 L912.7,765.3 L925.5,772.0 L925.5,993.0ZM805.7,873.2 L808.5,873.2 L813.5,877.1 L815.7,881.0 L814.2,884.3 L811.4,893.5 L813.5,902.8 L817.8,909.2 L817.1,917.1 L815.7,928.5 L812.1,932.8 L807.8,932.0 L802.1,926.3 L802.1,918.5 L803.5,912.8 L800.7,902.8 L798.2,895.7 L798.2,887.1 L800.7,877.8ZM669.3,947.2 L670.8,944.0 L675.1,941.6 L677.2,940.8 L684.6,940.0 L686.9,940.6 L686.7,942.4 L683.0,944.5 L677.2,947.2 L683.0,955.6 L679.3,956.2 L675.1,955.9 L670.8,954.0 L669.0,951.4ZM752.1,938.8 L759.9,945.0 L759.9,950.9 L753.8,951.4 L749.4,952.3 L748.3,961.1 L745.2,961.6 L740.0,961.6 L748.4,952.4 L749.5,949.2 L751.2,943.1Z" fill="none" stroke="#b84848" stroke-width="9.6" stroke-linejoin="round" clip-path="url(#ec)"/>
<g fill="none" stroke="#000" stroke-width="1"><path d="M507.2,885.3 C506.1,887.0 501.9,892.9 500.8,895.8 C499.7,898.7 499.4,900.6 500.8,902.7 C502.2,904.8 507.9,906.6 509.5,908.5 C511.1,910.4 511.1,911.4 510.1,914.3 C509.1,917.2 504.7,922.7 503.7,926.0 C502.7,929.3 503.1,931.0 504.3,934.1 C505.5,937.2 511.0,941.1 510.7,944.5 C510.4,947.9 503.7,951.7 502.5,954.4 C501.3,957.1 502.9,957.9 503.7,960.8 C504.4,963.7 507.4,967.8 507.0,972.0 C506.6,976.2 502.0,983.7 501.0,986.0"/><path d="M520.5,890.0 C520.2,891.0 517.5,893.9 518.8,895.8 C520.1,897.7 526.0,899.7 528.1,901.6 C530.2,903.5 530.8,904.3 531.6,907.4 C532.4,910.5 533.3,917.0 532.7,920.1 C532.1,923.2 528.9,924.0 528.1,926.0 C527.3,928.0 527.0,929.5 528.1,931.8 C529.2,934.1 534.8,936.8 535.0,939.9 C535.2,943.0 530.2,947.6 529.2,950.3 C528.2,953.0 528.5,953.7 529.2,956.2 C529.9,958.7 532.5,962.9 533.3,965.5 C534.1,968.1 534.3,968.5 533.9,972.0 C533.5,975.5 531.1,984.1 530.6,986.5"/><path d="M636.3,831.4 C635.0,834.7 629.6,846.1 628.5,851.3 C627.4,856.5 628.5,858.8 629.9,862.8 C631.3,866.8 637.0,870.1 637.0,875.6 C637.0,881.1 629.9,888.5 629.9,895.6 C629.9,902.7 637.0,911.0 637.0,918.4 C637.0,925.8 629.9,933.1 629.9,939.8 C629.9,946.4 636.5,950.4 637.0,958.3 C637.5,966.2 633.7,982.2 633.0,987.0"/><path d="M655.1,818.7 C655.7,820.6 657.5,826.5 658.5,830.0 C659.5,833.5 661.2,836.3 661.0,840.0 C660.8,843.7 658.4,847.8 657.5,852.0 C656.6,856.2 655.2,860.7 655.5,865.0 C655.8,869.3 658.1,874.0 659.5,878.0 C660.9,882.0 664.1,885.3 664.0,889.0 C663.9,892.7 660.8,896.7 659.0,900.0 C657.2,903.3 654.5,905.8 653.0,909.0 C651.5,912.2 650.3,915.3 650.0,919.0 C649.7,922.7 650.0,926.7 651.0,931.0 C652.0,935.3 656.0,940.2 656.0,945.0 C656.0,949.8 651.2,955.0 651.0,960.0 C650.8,965.0 654.8,970.5 655.0,975.0 C655.2,979.5 652.5,985.0 652.0,987.0"/><path d="M707.1,801.9 C708.5,805.8 714.6,818.4 715.5,825.4 C716.4,832.4 711.9,837.4 712.2,843.8 C712.5,850.2 716.9,858.1 717.2,864.0 C717.5,869.9 713.5,873.5 713.8,879.1 C714.1,884.7 719.2,890.6 718.9,897.6 C718.6,904.6 712.2,912.7 712.2,921.1 C712.2,929.5 719.2,939.8 718.9,947.9 C718.6,956.0 711.5,963.5 710.5,970.0 C709.5,976.5 712.6,984.2 713.0,987.0"/><path d="M727.3,805.2 C727.1,808.6 725.8,819.2 726.4,825.4 C727.0,831.6 730.5,836.9 730.6,842.2 C730.8,847.5 726.9,851.1 727.3,857.3 C727.7,863.4 732.9,871.3 733.2,879.1 C733.5,886.9 729.3,897.9 729.0,904.3 C728.7,910.7 732.2,913.2 731.5,917.7 C730.8,922.2 724.9,925.5 724.8,931.1 C724.6,936.7 730.3,944.8 730.6,951.3 C730.9,957.8 726.7,963.9 726.4,970.0 C726.1,976.1 728.6,985.0 729.0,988.0"/><path d="M798.2,777.7 C796.8,780.6 790.9,791.5 789.8,795.2 C788.7,798.9 792.6,796.9 791.7,799.8 C790.8,802.7 785.8,809.1 784.3,812.8 C782.8,816.5 784.6,818.3 782.5,822.0 C780.4,825.7 772.2,829.7 771.4,834.9 C770.6,840.1 777.5,848.5 777.8,853.4 C778.1,858.3 773.2,860.5 773.2,864.5 C773.2,868.5 778.2,873.4 777.8,877.4 C777.3,881.4 771.1,885.1 770.5,888.5 C769.9,891.9 774.2,894.3 774.2,897.7 C774.2,901.1 769.9,904.2 770.5,908.8 C771.1,913.4 777.2,921.1 777.8,925.4 C778.4,929.7 773.4,930.6 774.2,934.6 C775.0,938.6 782.5,945.1 782.5,949.4 C782.5,953.7 774.7,957.0 774.2,960.4 C773.7,963.8 779.4,965.3 779.7,969.9 C780.0,974.5 776.6,985.0 776.0,988.0"/><path d="M824.0,781.4 C823.2,782.6 819.7,785.1 819.4,788.8 C819.1,792.5 824.2,800.1 822.1,803.5 C820.0,806.9 809.7,806.3 806.5,809.1 C803.3,811.9 802.2,815.0 802.8,820.2 C803.4,825.4 809.5,836.2 810.1,840.5 C810.7,844.8 809.6,843.9 806.5,846.0 C803.4,848.1 794.2,850.3 791.7,853.4 C789.2,856.5 792.6,860.8 791.7,864.5 C790.8,868.2 787.9,870.0 786.2,875.5 C784.5,881.0 781.5,891.5 781.5,897.7 C781.5,903.9 785.7,907.0 786.2,912.5 C786.7,918.0 783.1,926.3 784.3,930.9 C785.5,935.5 792.0,936.4 793.5,940.1 C795.0,943.8 794.1,949.4 793.5,953.1 C792.9,956.8 789.5,959.5 789.8,962.3 C790.1,965.1 795.0,965.6 795.4,969.9 C795.8,974.2 792.6,985.0 792.0,988.0"/><circle cx="535.1" cy="921.9" r="3.7"/><ellipse cx="663" cy="842" rx="2.2" ry="5"/><ellipse cx="667" cy="892.5" rx="3.8" ry="3.5"/><ellipse cx="649.5" cy="917" rx="4.5" ry="6.5"/><ellipse cx="730" cy="845" rx="3" ry="2"/><ellipse cx="727" cy="897.5" rx="3.3" ry="6.5"/></g>
<text transform="translate(86.47,1041.50) scale(1.0,1.05)" font-size="34.5">1</text>
<text transform="translate(112.88,1067.60) scale(1.0,1.05)" font-size="34.5">2</text>
<text transform="translate(146.85,1041.50) scale(1.0,1.05)" font-size="34.5">3</text>
<text transform="translate(175.83,1067.60) scale(1.0,1.05)" font-size="34.5">4</text>
<text transform="translate(212.30,1041.50) scale(1.0,1.05)" font-size="34.5">5</text>
<text transform="translate(240.52,1067.60) scale(1.0,1.05)" font-size="34.5">6</text>
<text transform="translate(267.03,1041.50) scale(1.0,1.05)" font-size="34.5">7</text>
<text transform="translate(296.29,1067.60) scale(1.0,1.05)" font-size="34.5">8</text>
<text transform="translate(332.59,1041.50) scale(1.0,1.05)" font-size="34.5">9</text>
<text transform="translate(351.97,1067.60) scale(1.0,1.05)" font-size="34.5">10</text>
<text transform="translate(384.27,1041.50) scale(1.0,1.05)" font-size="34.5">11</text>
<text transform="translate(412.67,1067.60) scale(1.0,1.05)" font-size="34.5">12</text>
<text transform="translate(449.97,1041.50) scale(1.0,1.05)" font-size="34.5">13</text>
<text transform="translate(478.77,1067.60) scale(1.0,1.05)" font-size="34.5">14</text>
<text transform="translate(507.97,1041.50) scale(1.0,1.05)" font-size="34.5">15</text>
<text transform="translate(538.67,1067.60) scale(1.0,1.05)" font-size="34.5">16</text>
<text transform="translate(568.17,1041.50) scale(1.0,1.05)" font-size="34.5">17</text>
<text transform="translate(596.47,1067.60) scale(1.0,1.05)" font-size="34.5">18</text>
<text transform="translate(630.77,1041.50) scale(1.0,1.05)" font-size="34.5">19</text>
<text transform="translate(659.08,1067.60) scale(1.0,1.05)" font-size="34.5">20</text>
<text transform="translate(690.08,1041.50) scale(1.0,1.05)" font-size="34.5">21</text>
<text transform="translate(719.48,1067.60) scale(1.0,1.05)" font-size="34.5">22</text>
<text transform="translate(754.28,1041.50) scale(1.0,1.05)" font-size="34.5">23</text>
<text transform="translate(785.38,1067.60) scale(1.0,1.05)" font-size="34.5">24</text>
<text transform="translate(813.18,1041.50) scale(1.0,1.05)" font-size="34.5">25</text>
<text transform="translate(842.68,1067.60) scale(1.0,1.05)" font-size="34.5">26</text>
<text transform="translate(872.08,1041.50) scale(1.0,1.05)" font-size="34.5">27</text>
<text transform="translate(901.48,1067.60) scale(1.0,1.05)" font-size="34.5">28</text>
</svg>
</body></html>
